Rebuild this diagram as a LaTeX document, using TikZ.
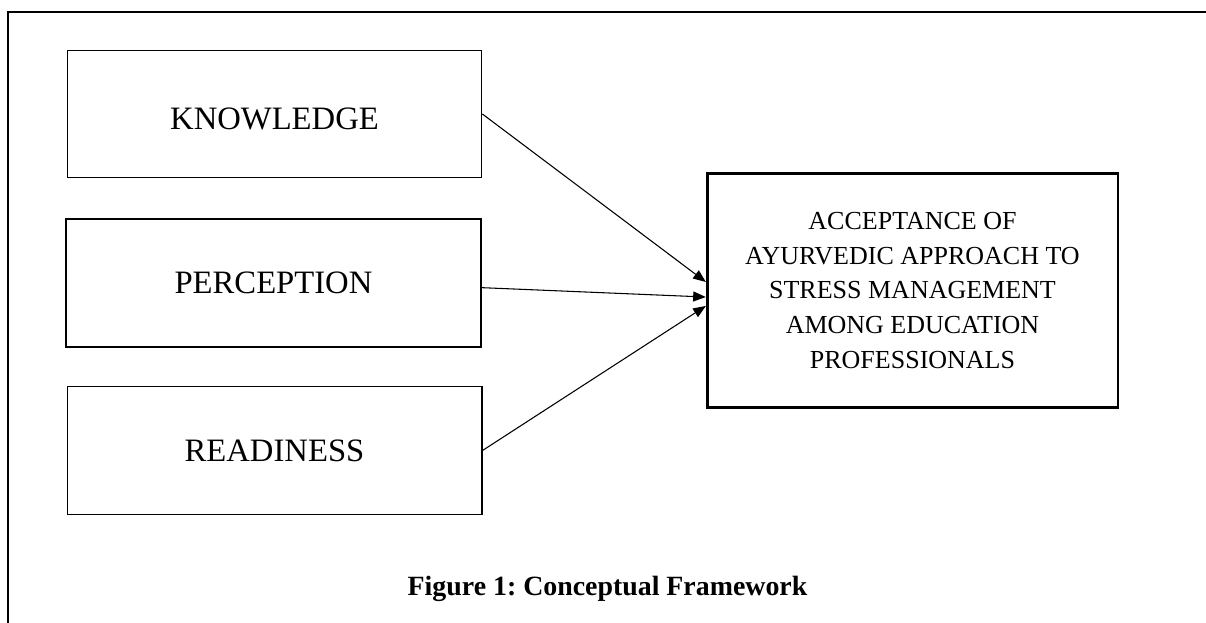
\documentclass[tikz,border=0pt]{standalone}
\usepackage{fontspec}
\setmainfont{Liberation Serif}
\usetikzlibrary{arrows.meta}
\frenchspacing
\begin{document}
\begin{tikzpicture}[x=0.75pt,y=-0.75pt,
  factor/.style={draw,minimum width=311pt,minimum height=95.5pt,inner sep=0pt,font=\fontsize{24.5}{29}\selectfont},
  outcome/.style={draw,line width=2pt,minimum width=308pt,minimum height=175pt,align=center,font=\fontsize{19.5}{26}\selectfont},
  link/.style={-{Triangle[length=9.5pt,width=7.5pt]},line width=0.8pt}]
\useasboundingbox (0,0) rectangle (1206,623);
% Frame
\draw[line width=1.5pt] (8,623) -- (8,12) -- (1206,12);
% Factors
\node[factor,line width=0.8pt,text height=24pt] (know) at (274.5,114) {KNOWLEDGE};
\node[factor,line width=1.5pt] (perc) at (273.5,283) {PERCEPTION};
\node[factor,line width=1pt] (ready) at (274.5,450.5) {READINESS};
% Outcome
\node[outcome] (accept) at (912.5,290.5) {ACCEPTANCE OF\\AYURVEDIC APPROACH TO\\STRESS MANAGEMENT\\AMONG EDUCATION\\PROFESSIONALS};
% Links
\draw[link] (know.east) -- ([yshift=6.4pt]accept.west);
\draw[link] ([yshift=-3.5pt]perc.east) -- ([yshift=-4.9pt]accept.west);
\draw[link] (ready.east) -- ([yshift=-11.6pt]accept.west);
% Caption
\node[anchor=base,font=\bfseries\fontsize{20.9}{25}\selectfont] (cap) at (607.5,595) {Figure 1: Conceptual Framework};
\end{tikzpicture}
\end{document}
